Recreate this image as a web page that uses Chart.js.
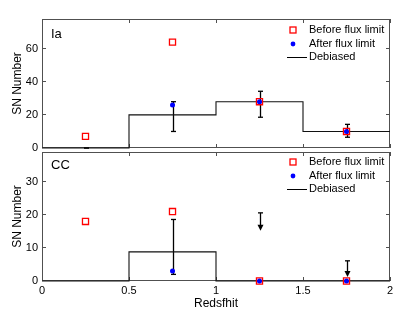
<!DOCTYPE html>
<html>
<head>
<meta charset="utf-8">
<script src="https://cdn.jsdelivr.net/npm/chart.js@4.4.0/dist/chart.umd.min.js"></script>
<style>
  html, body { margin: 0; padding: 0; background: #fff; }
  #wrap { position: relative; width: 415px; height: 312px; }
  #wrap canvas { position: absolute; left: 0; top: 0; }
</style>
</head>
<body>
<div id="wrap">
  <canvas id="iaChart" width="415" height="312"></canvas>
  <canvas id="ccChart" width="415" height="312"></canvas>
</div>
<script>
// redshift bins
const binEdges = [0, 0.5, 1, 1.5, 2];
const binMids = [0.25, 0.75, 1.25, 1.75];
const xTicks = [0, 0.5, 1, 1.5, 2];

// Ia panel
const iaBefore = [7, 64, 28, 10];
const iaAfter = [null, 26, 28, 10];
const iaDebiased = [0, 20, 28, 10];
const iaErrLow = [0, 10, 18.6, 6.5];
const iaErrHigh = [0, 28, 34.3, 14.3];
const iaTicks = [0, 20, 40, 60];
const iaMax = 78;

// CC panel
const ccBefore = [18, 21, 0, 0];
const ccAfter = [null, 3, 0, 0];
const ccDebiased = [0, 8.8, 0, 0];
const ccErrLow = [null, 2, null, null];
const ccErrHigh = [null, 18.6, null, null];
const ccLimitTop = [null, null, 20.6, 6.1];
const ccLimitTip = [null, null, 15.2, 1.2];
const ccTicks = [0, 10, 20, 30];
const ccMax = 39;

Chart.defaults.font.family = '"Liberation Sans", Arial, Helvetica, sans-serif';
Chart.defaults.color = '#000';

const AXIS_COLOR = '#505050';
const FONT = '"Liberation Sans", Arial, Helvetica, sans-serif';

function points(xs, ys) {
    return xs.map((x, i) => ({ x: x, y: ys[i] })).filter(p => p.y != null);
}

function stepPoints(vals) {
    return binEdges.map((x, i) => ({ x: x, y: vals[Math.min(i, vals.length - 1)] }));
}

function hline(ctx, x1, x2, y) {
    ctx.beginPath(); ctx.moveTo(x1, y); ctx.lineTo(x2, y); ctx.stroke();
}
function vline(ctx, x, y1, y2) {
    ctx.beginPath(); ctx.moveTo(x, y1); ctx.lineTo(x, y2); ctx.stroke();
}

const panelPlugin = {
    id: 'panel',
    beforeDatasetsDraw(chart, args, opts) {
        const ctx = chart.ctx;
        const xs = chart.scales.x, ys = chart.scales.y;
        const a = chart.chartArea;
        ctx.save();

        // frame with inward ticks
        ctx.strokeStyle = AXIS_COLOR;
        ctx.lineWidth = 1;
        ctx.strokeRect(a.left + 0.5, a.top + 0.5, a.right - a.left - 1, a.bottom - a.top - 1);
        xTicks.forEach(v => {
            const px = Math.round(xs.getPixelForValue(v)) + 0.5;
            vline(ctx, px, a.bottom, a.bottom - 4);
            vline(ctx, px, a.top, a.top + 4);
        });
        opts.yTicks.forEach(v => {
            const py = Math.round(ys.getPixelForValue(v)) - 0.5;
            hline(ctx, a.left, a.left + 4, py);
            hline(ctx, a.right, a.right - 4, py);
        });

        // error bars
        ctx.strokeStyle = '#000';
        ctx.lineWidth = 1.3;
        binMids.forEach((z, i) => {
            if (opts.errLow[i] == null) return;
            const px = Math.round(xs.getPixelForValue(z)) + 0.5;
            const lo = ys.getPixelForValue(opts.errLow[i]);
            const hi = ys.getPixelForValue(opts.errHigh[i]);
            vline(ctx, px, lo, hi);
            hline(ctx, px - 2.5, px + 2.5, lo);
            hline(ctx, px - 2.5, px + 2.5, hi);
        });

        // upper limits
        (opts.limitTop || []).forEach((top, i) => {
            if (top == null) return;
            const px = Math.round(xs.getPixelForValue(binMids[i])) + 0.5;
            const y1 = ys.getPixelForValue(top);
            const y2 = ys.getPixelForValue(opts.limitTip[i]);
            vline(ctx, px, y1, y2 - 4);
            hline(ctx, px - 2.5, px + 2.5, y1);
            ctx.fillStyle = '#000';
            ctx.beginPath();
            ctx.moveTo(px - 3, y2 - 6);
            ctx.lineTo(px + 3, y2 - 6);
            ctx.lineTo(px, y2);
            ctx.closePath();
            ctx.fill();
        });
        ctx.restore();
    },
    afterDatasetsDraw(chart, args, opts) {
        const ctx = chart.ctx;
        const a = chart.chartArea;
        ctx.save();

        // panel label
        ctx.fillStyle = '#000';
        ctx.font = '13px ' + FONT;
        ctx.textBaseline = 'middle';
        ctx.textAlign = 'left';
        ctx.fillText(opts.label, a.left + 9, a.top + opts.labelY);

        // legend
        const mx = a.right - 97, tx = a.right - 81;
        const rows = opts.legendY.map(d => a.top + d);
        ctx.font = '11px ' + FONT;
        ctx.fillText('Before flux limit', tx, rows[0]);
        ctx.fillText('After flux limit', tx, rows[1]);
        ctx.fillText('Debiased', tx, rows[2]);

        ctx.strokeStyle = '#ff0000';
        ctx.lineWidth = 1.3;
        ctx.strokeRect(mx - 3, rows[0] - 3, 6, 6);
        ctx.fillStyle = '#0000ff';
        ctx.beginPath();
        ctx.arc(mx, rows[1], 2.4, 0, Math.PI * 2);
        ctx.fill();
        ctx.strokeStyle = '#000';
        ctx.lineWidth = 1;
        hline(ctx, a.right - 103, a.right - 83, Math.round(rows[2]) + 0.5);
        ctx.restore();
    }
};

function makePanel(id, p) {
    return new Chart(document.getElementById(id), {
        type: 'scatter',
        data: {
            datasets: [
                {
                    label: 'Before flux limit',
                    data: points(binMids, p.before),
                    pointStyle: 'rect',
                    pointRadius: 4.3,
                    pointHoverRadius: 4.3,
                    borderColor: '#ff0000',
                    backgroundColor: 'rgba(255,255,255,0)',
                    borderWidth: 1.3,
                    order: 1,
                    clip: false
                },
                {
                    label: 'After flux limit',
                    data: points(binMids, p.after),
                    pointStyle: 'circle',
                    pointRadius: 2.5,
                    pointHoverRadius: 2.5,
                    borderWidth: 0,
                    backgroundColor: '#0000ff',
                    borderColor: '#0000ff',
                    order: 0,
                    clip: false
                },
                {
                    type: 'line',
                    label: 'Debiased',
                    data: stepPoints(p.debiased),
                    stepped: 'before',
                    borderColor: '#111',
                    borderWidth: 1.1,
                    pointRadius: 0,
                    fill: false,
                    order: 2,
                    clip: false
                }
            ]
        },
        options: {
            responsive: false,
            animation: false,
            events: [],
            layout: { padding: { left: 0, right: 25, top: p.top, bottom: p.bottom } },
            plugins: {
                legend: { display: false },
                tooltip: { enabled: false },
                panel: {
                    label: p.label,
                    labelY: p.labelY,
                    legendY: p.legendY,
                    yTicks: p.ticks,
                    errLow: p.errLow,
                    errHigh: p.errHigh,
                    limitTop: p.limitTop,
                    limitTip: p.limitTip
                }
            },
            scales: {
                x: {
                    type: 'linear',
                    min: 0,
                    max: 2,
                    afterBuildTicks: s => { s.ticks = xTicks.map(v => ({ value: v })); },
                    afterFit: s => { s.height = p.showX ? 31 : 0; },
                    grid: { display: false, drawTicks: false },
                    border: { display: false },
                    ticks: {
                        display: p.showX,
                        autoSkip: false,
                        maxRotation: 0,
                        padding: 3,
                        font: { size: 11 },
                        callback: v => String(v)
                    },
                    title: {
                        display: p.showX,
                        text: 'Redsfhit',
                        font: { size: 12 },
                        padding: { top: 0, bottom: 1 }
                    }
                },
                y: {
                    type: 'linear',
                    min: 0,
                    max: p.max,
                    afterBuildTicks: s => { s.ticks = p.ticks.map(v => ({ value: v })); },
                    afterFit: s => { s.width = 42; },
                    grid: { display: false, drawTicks: false },
                    border: { display: false },
                    ticks: { padding: 4, font: { size: 11 }, callback: v => String(v) },
                    title: {
                        display: true,
                        text: 'SN Number',
                        font: { size: 12 },
                        padding: { top: 10, bottom: 0 }
                    }
                }
            }
        },
        plugins: [panelPlugin]
    });
}

makePanel('iaChart', {
    label: 'Ia', labelY: 15, legendY: [11, 25, 38],
    before: iaBefore, after: iaAfter, debiased: iaDebiased,
    errLow: iaErrLow, errHigh: iaErrHigh,
    ticks: iaTicks, max: iaMax,
    top: 19, bottom: 164, showX: false
});

makePanel('ccChart', {
    label: 'CC', labelY: 13, legendY: [10, 24, 37],
    before: ccBefore, after: ccAfter, debiased: ccDebiased,
    errLow: ccErrLow, errHigh: ccErrHigh,
    limitTop: ccLimitTop, limitTip: ccLimitTip,
    ticks: ccTicks, max: ccMax,
    top: 152, bottom: 0, showX: true
});
</script>
</body>
</html>
